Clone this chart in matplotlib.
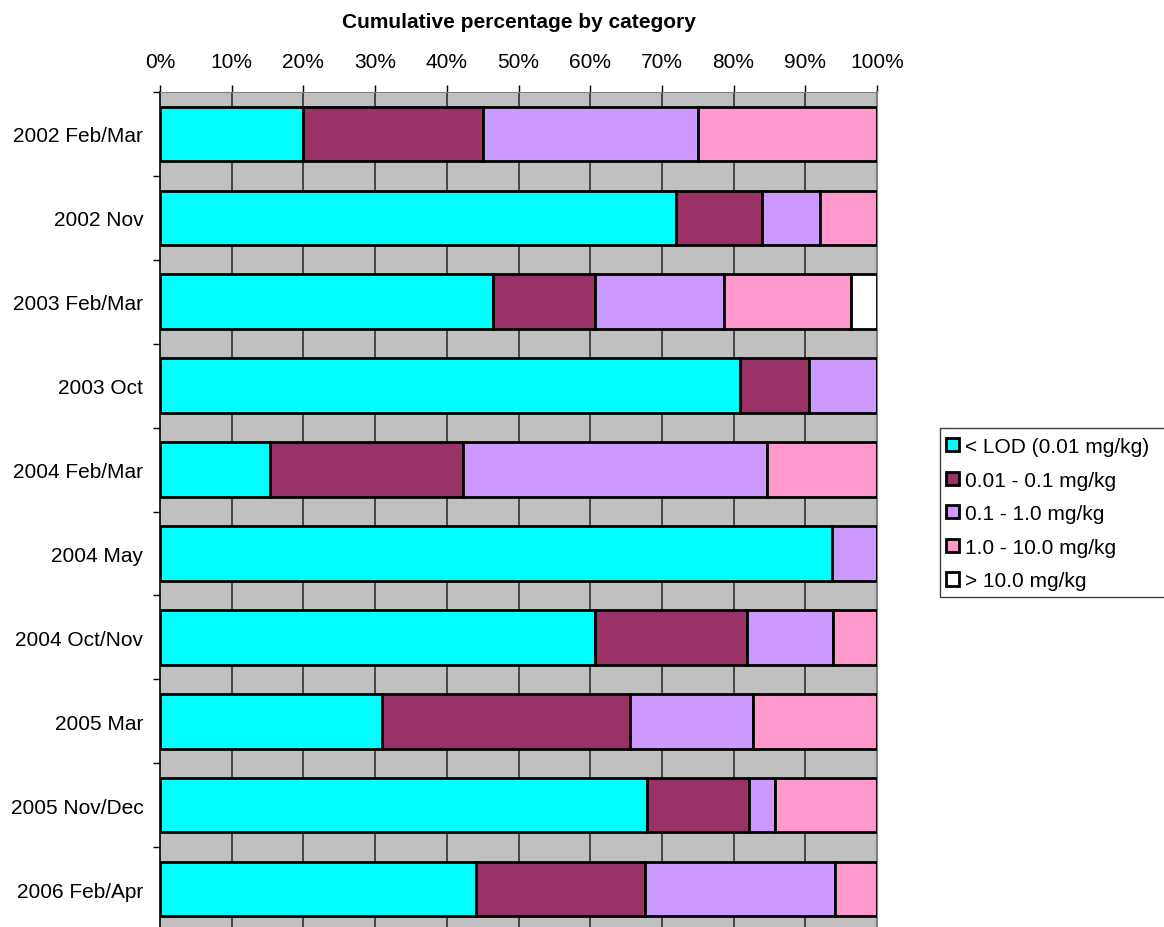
import matplotlib
matplotlib.use("Agg")
import matplotlib.pyplot as plt
import numpy as np
from matplotlib.patches import Patch, Rectangle

plt.rcParams["font.family"] = ["Liberation Sans", "DejaVu Sans"]

# Sampling rounds, top to bottom
periods = [
    "2002 Feb/Mar", "2002 Nov", "2003 Feb/Mar", "2003 Oct", "2004 Feb/Mar",
    "2004 May", "2004 Oct/Nov", "2005 Mar", "2005 Nov/Dec", "2006 Feb/Apr",
]

# Share of samples (%) in each concentration class
below_lod = [20.0, 72.0, 46.4, 80.9, 15.4, 93.75, 60.6, 31.0, 67.9, 44.1]
lod_to_01 = [25.0, 12.0, 14.3, 9.55, 26.9, 0.0, 21.2, 34.5, 14.3, 23.5]
from_01_to_1 = [30.0, 8.0, 17.9, 9.55, 42.3, 6.25, 12.1, 17.2, 3.6, 26.5]
from_1_to_10 = [25.0, 8.0, 17.8, 0.0, 15.4, 0.0, 6.1, 17.3, 14.2, 5.9]
above_10 = [0.0, 0.0, 3.6, 0.0, 0.0, 0.0, 0.0, 0.0, 0.0, 0.0]

class_labels = [
    "< LOD (0.01 mg/kg)", "0.01 - 0.1 mg/kg", "0.1 - 1.0 mg/kg",
    "1.0 - 10.0 mg/kg", "> 10.0 mg/kg",
]
class_colors = ["#00FFFF", "#993366", "#CC99FF", "#FF99CC", "#FFFFFF"]

W, H = 1164, 928
fig = plt.figure(figsize=(W / 100, H / 100), dpi=100)
ax = fig.add_axes([160 / W, (H - 932) / H, 717 / W, 839 / H])
ax.set_facecolor("#C0C0C0")

y = np.arange(len(periods))
series = [below_lod, lod_to_01, from_01_to_1, from_1_to_10, above_10]
left = np.zeros(len(periods))
for vals, col in zip(series, class_colors):
    vals = np.array(vals)
    ax.barh(y, vals, left=left, height=0.65, color=col,
            edgecolor="black", linewidth=2.0, zorder=3)
    left += vals

ax.set_xlim(0, 100)
ax.set_ylim(len(periods) - 0.5, -0.5)

# percentage axis on top
ax.xaxis.tick_top()
ax.set_xticks(np.arange(0, 101, 10))
ax.set_xticklabels([f"{v}%" for v in range(0, 101, 10)])
ax.tick_params(axis="x", direction="out", length=5, width=1, pad=10,
               labelsize=15, colors="black")
for gx in range(10, 101, 10):
    ax.axvline(gx, color="#303030", linewidth=1.2, zorder=1)

# category labels centred on bars, tick marks between them
ax.set_yticks(y)
ax.set_yticklabels(periods)
ax.set_yticks(np.arange(-0.5, len(periods), 1.0), minor=True)
ax.tick_params(axis="y", which="major", length=0, pad=12, labelsize=15)
ax.tick_params(axis="y", which="minor", direction="out", length=5, width=1)

ax.spines["left"].set_color("black")
ax.spines["left"].set_linewidth(1.2)
ax.spines["top"].set_color("#808080")
ax.spines["right"].set_color("#808080")
ax.spines["right"].set_linewidth(1.5)
ax.spines["bottom"].set_visible(False)

fig.text((160 + 877) / 2 / W, 1 - 22 / H, "Cumulative percentage by category",
         ha="center", va="center", fontsize=15, fontweight="bold")

# legend box runs off the right edge of the figure
fig.add_artist(Rectangle((940 / W, 1 - 598 / H), 240 / W, 169 / H,
                         transform=fig.transFigure, facecolor="white",
                         edgecolor="#404040", linewidth=1.0, clip_on=False))
handles = [Patch(facecolor=c, edgecolor="black", linewidth=2.0) for c in class_colors]
leg = fig.legend(handles, class_labels, loc="upper left",
                 bbox_to_anchor=(946 / W, 1 - 438 / H), fontsize=15,
                 handlelength=0.6, handleheight=0.6, handletextpad=0.3,
                 labelspacing=0.7, borderpad=0, borderaxespad=0,
                 frameon=False)

fig.savefig("out.png", dpi=100)
